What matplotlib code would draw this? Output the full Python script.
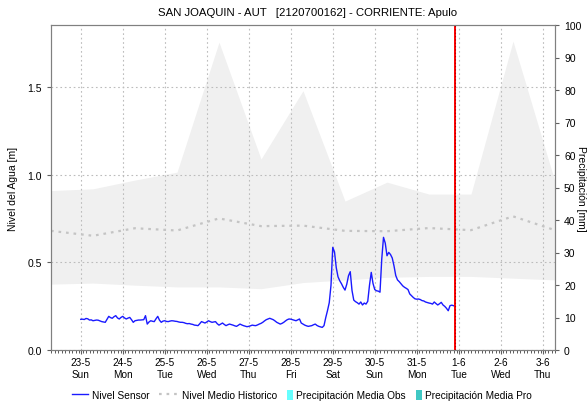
import numpy as np
import pandas as pd
import matplotlib
matplotlib.use("Agg")
import matplotlib.pyplot as plt
import matplotlib.dates as mdates
from matplotlib.lines import Line2D
from matplotlib.patches import Patch

plt.rcParams['font.family'] = ['Liberation Sans', 'DejaVu Sans']

# ---- data -------------------------------------------------------------
title = "SAN JOAQUIN - AUT   [2120700162] - CORRIENTE: Apulo"

# historical envelope and mean, one value per day (07:00)
hist_start = "2021-05-22 07:00"
hist_top = [0.91, 0.92, 0.97, 1.015, 1.757, 1.09, 1.48, 0.85, 0.958, 0.89, 0.89, 1.763, 0.96]
hist_low = [0.376, 0.382, 0.37, 0.36, 0.36, 0.35, 0.385, 0.40, 0.415, 0.42, 0.42, 0.41, 0.40]
hist_mean = [0.68, 0.652, 0.695, 0.682, 0.751, 0.707, 0.71, 0.68, 0.678, 0.696, 0.684, 0.763, 0.684]

# hourly sensor level [m] starting 23-5 00:00
sensor_start = "2021-05-23 00:00"
sensor_level = [
    0.175, 0.176, 0.174, 0.180, 0.178, 0.171, 0.172, 0.167, 0.169, 0.171, 0.170, 0.166,
    0.162, 0.160, 0.158, 0.175, 0.192, 0.185, 0.181, 0.190, 0.196, 0.183, 0.177, 0.186,
    0.192, 0.183, 0.177, 0.182, 0.186, 0.173, 0.158, 0.167, 0.169, 0.171, 0.171, 0.172,
    0.173, 0.196, 0.148, 0.160, 0.167, 0.164, 0.162, 0.178, 0.192, 0.170, 0.158, 0.165,
    0.167, 0.163, 0.162, 0.165, 0.167, 0.166, 0.164, 0.163, 0.160, 0.158, 0.158, 0.156,
    0.152, 0.150, 0.151, 0.148, 0.146, 0.142, 0.141, 0.139, 0.150, 0.162, 0.158, 0.154,
    0.160, 0.167, 0.162, 0.158, 0.160, 0.162, 0.150, 0.142, 0.148, 0.154, 0.146, 0.139,
    0.144, 0.148, 0.145, 0.142, 0.138, 0.135, 0.141, 0.148, 0.143, 0.139, 0.136, 0.133,
    0.135, 0.138, 0.142, 0.140, 0.139, 0.143, 0.148, 0.152, 0.158, 0.166, 0.173, 0.177,
    0.181, 0.177, 0.173, 0.166, 0.158, 0.153, 0.148, 0.152, 0.158, 0.166, 0.173, 0.177,
    0.176, 0.173, 0.170, 0.167, 0.172, 0.177, 0.154, 0.148, 0.142, 0.138, 0.135, 0.137,
    0.139, 0.144, 0.148, 0.140, 0.135, 0.132, 0.129, 0.139, 0.185, 0.225, 0.270, 0.370,
    0.586, 0.560, 0.470, 0.418, 0.395, 0.378, 0.358, 0.342, 0.375, 0.424, 0.447, 0.340,
    0.285, 0.276, 0.270, 0.262, 0.274, 0.257, 0.268, 0.262, 0.278, 0.370, 0.443, 0.380,
    0.345, 0.338, 0.336, 0.330, 0.519, 0.643, 0.610, 0.538, 0.557, 0.545, 0.525, 0.480,
    0.425, 0.400, 0.390, 0.378, 0.366, 0.358, 0.352, 0.345, 0.320, 0.310, 0.300, 0.292,
    0.290, 0.291, 0.288, 0.282, 0.280, 0.274, 0.271, 0.268, 0.266, 0.262, 0.274, 0.265,
    0.257, 0.264, 0.272, 0.257, 0.249, 0.238, 0.224, 0.253, 0.256, 0.253, 0.249,
]

now_time = "2021-05-31 22:00"
x_range = ("2021-05-22 07:00", "2021-06-03 07:00")
day_names = ["Sun", "Mon", "Tue", "Wed", "Thu", "Fri", "Sat"]

# ---- figure ------------------------------------------------------------
hist_t = pd.date_range(hist_start, periods=len(hist_top), freq="D")
sens_t = pd.date_range(sensor_start, periods=len(sensor_level), freq="h")

fig = plt.figure(figsize=(5.87, 4.02), dpi=100)
ax = fig.add_axes([51 / 587, 1 - 351 / 402, (555 - 51) / 587, (351 - 26) / 402])

mean_style = dict(color="#c4c4c4", linestyle=(0, (1.2, 2.2)), linewidth=1.6)
sensor_style = dict(color="#1a1aff", linewidth=1.0)

ax.fill_between(hist_t, hist_low, hist_top, color="#f0f0f0", linewidth=0, zorder=1)
ax.plot(hist_t, hist_mean, zorder=3, **mean_style)
ax.plot(sens_t, sensor_level, zorder=4, **sensor_style)
ax.axvline(pd.Timestamp(now_time), color="#ff0000", linewidth=1.4, zorder=5)
ax.axvline(pd.Timestamp(now_time), color="#a00000", linewidth=0.8, linestyle=(0, (1, 2)), zorder=6)

ax.set_xlim(pd.Timestamp(x_range[0]), pd.Timestamp(x_range[1]))
ax.set_ylim(0, 1.855)
ax.set_yticks([0.0, 0.5, 1.0, 1.5])
ax.yaxis.set_major_formatter(matplotlib.ticker.FormatStrFormatter("%.1f"))

ax.xaxis.set_major_locator(mdates.DayLocator())
ax.xaxis.set_minor_locator(mdates.HourLocator(interval=2))


def day_label(x, pos=None):
    d = mdates.num2date(x)
    return f"{d.day}-{d.month}\n{day_names[(d.weekday() + 1) % 7]}"


ax.xaxis.set_major_formatter(matplotlib.ticker.FuncFormatter(day_label))

ax.grid(True, which="major", color="#bcbcbc", linestyle=(0, (1.5, 2.5)), linewidth=0.8)

for sp in ax.spines.values():
    sp.set_color("#808080")
ax.tick_params(axis="both", which="major", labelsize=7.5, colors="#606060", labelcolor="black",
               length=3, width=0.8)
ax.tick_params(axis="x", which="minor", length=2, width=0.6, colors="#404040")
ax.tick_params(axis="x", which="major", labelsize=7.2, pad=2)
ax.set_ylabel("Nivel del Agua [m]", fontsize=7.5, labelpad=7)

ax2 = ax.twinx()
ax2.set_ylim(0, 100)
ax2.set_yticks(np.arange(0, 101, 10))
for sp in ax2.spines.values():
    sp.set_color("#808080")
ax2.tick_params(axis="y", labelsize=7.5, colors="#606060", labelcolor="black", length=3, width=0.8)
ax2.set_ylabel("Precipitación [mm]", fontsize=7.5, rotation=270, labelpad=3)

fig.text(308 / 587, 1 - 13 / 402, title, ha="center", va="center", fontsize=8.2)

# legend entries, each anchored at its own position along the bottom
legend_entries = [
    (Line2D([], [], **sensor_style), "Nivel Sensor", 72, 1.6),
    (Line2D([], [], **mean_style), "Nivel Medio Historico", 159, 1.95),
    (Patch(facecolor="#66ffff", edgecolor="none"), "Precipitación Media Obs", 287, 0.55),
    (Patch(facecolor="#40c8c4", edgecolor="none"), "Precipitación Media Pro", 416, 0.55),
]
for handle, label, xpix, hlen in legend_entries:
    leg = fig.legend([handle], [label], loc="center left",
                     bbox_to_anchor=(xpix / 587, 1 - 396 / 402), frameon=False,
                     borderpad=0, borderaxespad=0, handletextpad=0.35,
                     handlelength=hlen, handleheight=1.1, fontsize=7.3)

fig.savefig("out.png", dpi=100)
